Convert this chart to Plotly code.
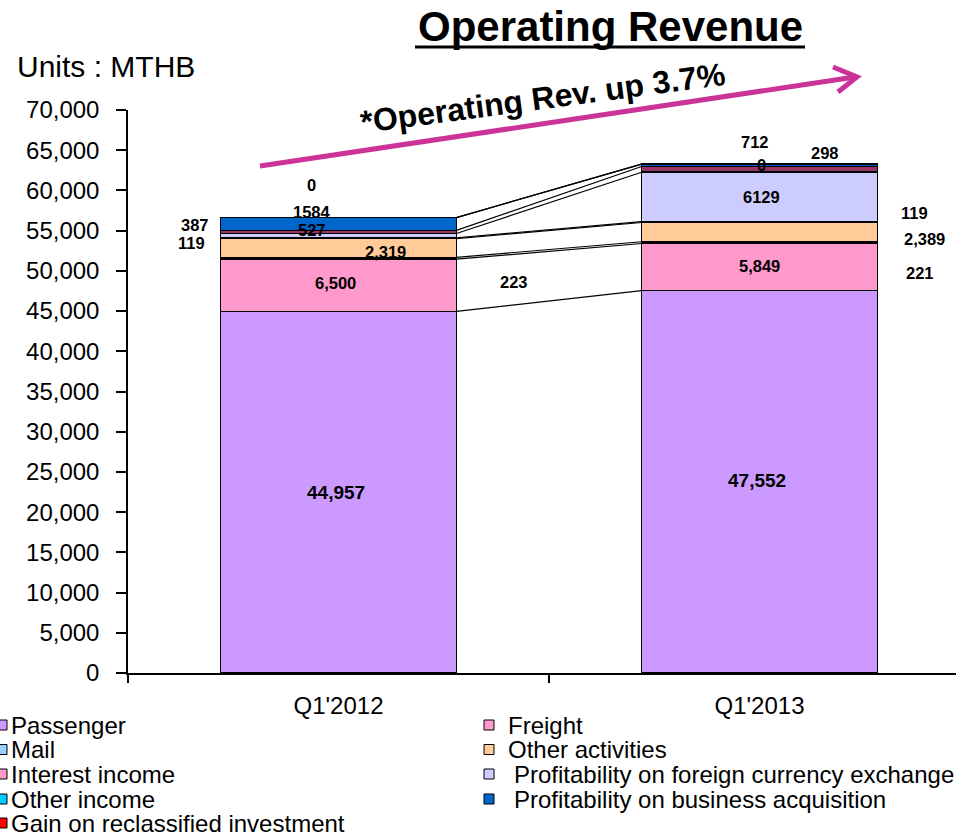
import plotly.graph_objects as go

# ---------------- data ----------------
categories = ["Q1'2012", "Q1'2013"]
passenger = [44957, 47552]
freight = [6500, 5849]
mail = [223, 221]
other_activities = [2319, 2389]
interest_income = [119, 119]
fx_profit = [527, 6129]
other_income = [387, 712]
business_acq = [1584, 298]
gain_reclass = [0, 0]

series_names = ["Passenger", "Freight", "Mail", "Other activities", "Interest income",
                "Profitability on foreign currency exchange", "Other income",
                "Profitability on business acquisition", "Gain on reclassified investment"]
series_values = [passenger, freight, mail, other_activities, interest_income,
                 fx_profit, other_income, business_acq, gain_reclass]
use_comma = [True, True, True, True, False, False, False, False, False]

y_ticks = list(range(0, 70001, 5000))

# ---------------- styles ----------------
bar_colors = ["#CC99FF", "#FF99CC", "#99CCFF", "#FFCC99", "#FF99CC",
              "#CCCCFF", "#993366", "#0066CC", "#FF0000"]
legend_colors = ["#CC99FF", "#FF99CC", "#99CCFF", "#FFCC99", "#FF99CC",
                 "#CCCCFF", "#00CCFF", "#0066CC", "#FF0000"]
label_sizes = [19, 16.5, 16.5, 16.5, 16.5, 16.5, 16.5, 16.5, 16.5]
# manual label placement (x in category units, y in data units), per series, per bar
label_pos = [
    [(-0.006, 22500), (0.994, 23990)],
    [(-0.007, 48450), (1.0, 50640)],
    [(0.417, 48650), (1.381, 49700)],
    [(0.112, 52380), (1.393, 53960)],
    [(-0.349, 53460), (1.369, 57155)],
    [(-0.064, 55080), (1.004, 59220)],
    [(-0.341, 55700), (0.989, 66060)],
    [(-0.064, 57350), (1.156, 64610)],
    [(-0.064, 60670), (1.004, 63160)],
]

FONT = "Liberation Sans, Arial, sans-serif"
W, H = 956, 836
L, R, T, B = 128, 0, 110, 163
PW, PH = W - L - R, H - T - B
CAT_PX = 421.0
BAR_W = 0.56
x_pos = [0, 1]


def px(xp):
    return (xp - L) / PW


def py(yp):
    return (H - B - yp) / PH


fig = go.Figure()

# stacked bars
for name, vals, col in zip(series_names, series_values, bar_colors):
    fig.add_trace(go.Bar(
        x=x_pos, y=vals, name=name, width=BAR_W,
        marker=dict(color=col, line=dict(color="black", width=1.6)),
        showlegend=False, hoverinfo="name+y"))

# series connector lines between the bars
cum = [0, 0]
for vals in series_values:
    cum = [cum[0] + vals[0], cum[1] + vals[1]]
    fig.add_trace(go.Scatter(
        x=[x_pos[0] + BAR_W / 2, x_pos[1] - BAR_W / 2], y=list(cum),
        mode="lines", line=dict(color="black", width=1.2),
        showlegend=False, hoverinfo="skip"))

annotations = []
# data labels
for vals, comma, pos, fs in zip(series_values, use_comma, label_pos, label_sizes):
    for v, (lx, ly) in zip(vals, pos):
        txt = f"{v:,}" if comma else f"{v}"
        annotations.append(dict(x=lx, y=ly, xref="x", yref="y", text=f"<b>{txt}</b>",
                                xanchor="center", yanchor="middle",
                                showarrow=False, font=dict(family=FONT, size=fs, color="black")))

# title
annotations.append(dict(x=px(610), y=py(26), xref="paper", yref="paper",
                        xanchor="center", yanchor="middle",
                        text="<b>Operating Revenue</b>", showarrow=False,
                        font=dict(family=FONT, size=42, color="black")))
# units
annotations.append(dict(x=px(15), y=py(67), xref="paper", yref="paper",
                        xanchor="left", yanchor="middle",
                        text="Units : MTHB", showarrow=False,
                        font=dict(family=FONT, size=30, color="black")))
# growth text
annotations.append(dict(x=px(543), y=py(98), xref="paper", yref="paper",
                        xanchor="center", yanchor="middle",
                        text="<b>*Operating Rev. up 3.7%</b>", showarrow=False, textangle=-7.6,
                        font=dict(family=FONT, size=32, color="black")))

shapes = []
# title underline
shapes.append(dict(type="line", xref="paper", yref="paper", x0=px(415), x1=px(805),
                   y0=py(47), y1=py(47), line=dict(color="black", width=3)))
# arrow
ARROW = "#CC3399"
shapes.append(dict(type="line", xref="paper", yref="paper", x0=px(260), y0=py(166),
                   x1=px(855), y1=py(77), line=dict(color=ARROW, width=5)))
shapes.append(dict(type="path", xref="paper", yref="paper",
                   path=f"M {px(833)},{py(67)} L {px(857)},{py(77)} L {px(838)},{py(92)}",
                   line=dict(color=ARROW, width=5)))

# manual legend (two columns)
rows_y = [725, 749.5, 774, 799, 823]
order_left = [0, 2, 4, 6, 8]
order_right = [1, 3, 5, 7]
col_square_x = [-3, 484]
col_text_gap = [12, 22]
for col_idx, order in enumerate([order_left, order_right]):
    sq_x0 = col_square_x[col_idx]
    for r, si in enumerate(order):
        yc = rows_y[r]
        shapes.append(dict(type="rect", xref="paper", yref="paper",
                           x0=px(sq_x0), x1=px(sq_x0 + 10), y0=py(yc + 5), y1=py(yc - 5),
                           fillcolor=legend_colors[si], line=dict(color="black", width=1)))
        tx = sq_x0 + col_text_gap[col_idx]
        if series_names[si].startswith("Profitability"):
            tx += 6
        annotations.append(dict(x=px(tx), y=py(yc), xref="paper", yref="paper",
                                xanchor="left", yanchor="middle", text=series_names[si],
                                showarrow=False,
                                font=dict(family=FONT, size=24, color="black")))

fig.update_layout(
    width=W, height=H, margin=dict(l=L, r=R, t=T, b=B, pad=0),
    paper_bgcolor="white", plot_bgcolor="white",
    barmode="stack", bargap=0.44, showlegend=False,
    annotations=annotations, shapes=shapes,
    xaxis=dict(range=[-0.5, -0.5 + PW / CAT_PX], tickmode="array", tickvals=x_pos,
               ticktext=categories, ticks="", showline=True, linecolor="black", linewidth=1.5,
               showgrid=False, zeroline=False, tickfont=dict(family=FONT, size=24, color="black"),
               minor=dict(tickmode="array", tickvals=[-0.5, 0.5, 1.5], ticks="outside",
                          ticklen=8, tickcolor="black", tickwidth=1.5, showgrid=False),
               ticklabelstandoff=10),
    yaxis=dict(range=[0, 70000], tickmode="array", tickvals=y_ticks, tickformat=",",
               ticks="outside", ticklen=10, tickcolor="black", tickwidth=1.5,
               showline=True, linecolor="black", linewidth=1.5, showgrid=False,
               zeroline=False, tickfont=dict(family=FONT, size=24, color="black"),
               ticklabelstandoff=12),
)

fig.write_html("out.html", config={"displayModeBar": False},
               post_script="document.body.style.margin='0';document.body.style.overflow='hidden';")
